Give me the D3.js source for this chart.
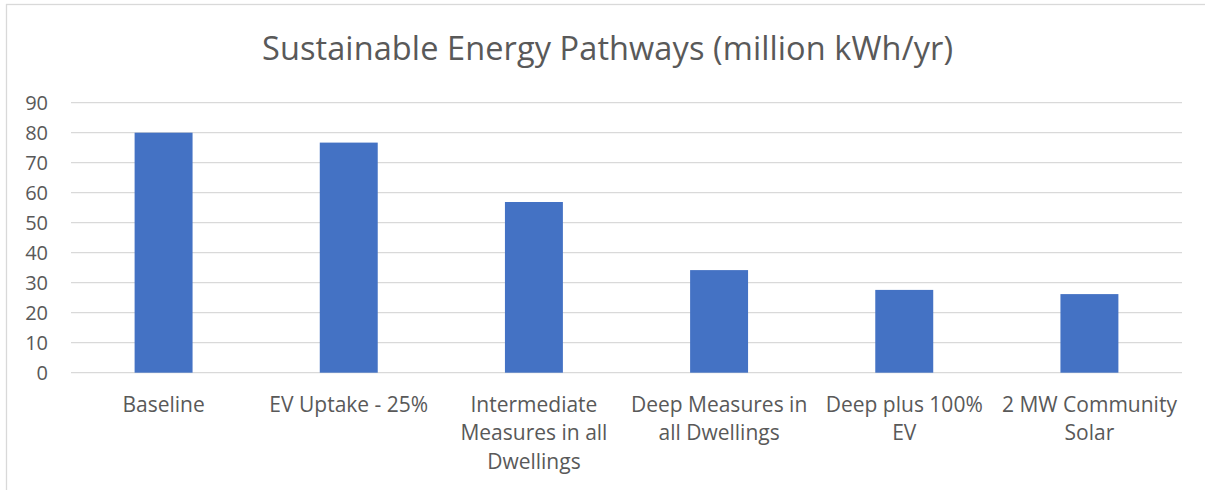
<!DOCTYPE html>
<html>
<head>
<meta charset="utf-8">
<script src="https://cdn.jsdelivr.net/npm/d3@7"></script>
<style>
  html, body { margin: 0; padding: 0; background: #fff; }
  svg { display: block; }
  text { font-family: "Open Sans", sans-serif; fill: #595959; }
</style>
</head>
<body>
<svg id="chart" width="1205" height="490"></svg>
<script>
// Annual energy use per pathway (million kWh/yr)
const categories = [
  ["Baseline"],
  ["EV Uptake - 25%"],
  ["Intermediate", "Measures in all", "Dwellings"],
  ["Deep Measures in", "all Dwellings"],
  ["Deep plus 100%", "EV"],
  ["2 MW Community", "Solar"]
];
const values = [80.0, 76.7, 56.9, 34.2, 27.6, 26.2];
const yTicks = [0, 10, 20, 30, 40, 50, 60, 70, 80, 90];
const title = "Sustainable Energy Pathways (million kWh/yr)";

const svg = d3.select("#chart");
const W = 1205, H = 490;
const plot = { left: 71, right: 1182, top: 102.7, bottom: 372.7 };
const FONT = "'Open Sans', sans-serif";

// chart frame
svg.append("rect")
  .attr("x", 6.5).attr("y", 4.5)
  .attr("width", W).attr("height", H)
  .attr("fill", "#fff").attr("stroke", "#d9d9d9").attr("stroke-width", 1.3);

const titleText = svg.append("text")
  .attr("x", 607.5).attr("y", 59.5)
  .attr("text-anchor", "middle")
  .style("font-size", "32.5px")
  .text(title);
// Open Sans runs narrower than the chart's title box here; stretch spacing to fill it
titleText.attr("textLength", 691).attr("lengthAdjust", "spacing");

const x = d3.scaleBand()
  .domain(d3.range(categories.length))
  .range([plot.left, plot.right])
  .paddingInner(0.687)
  .paddingOuter(0.3435);

const y = d3.scaleLinear().domain([0, 90]).range([plot.bottom, plot.top]);

// gridlines
svg.append("g")
  .selectAll("line")
  .data(yTicks)
  .join("line")
  .attr("x1", plot.left).attr("x2", plot.right)
  .attr("y1", d => y(d)).attr("y2", d => y(d))
  .attr("stroke", "#d9d9d9").attr("stroke-width", 1.3);

// y axis labels
const yAxis = d3.axisLeft(y).tickValues(yTicks).tickSize(0).tickPadding(0);
const gy = svg.append("g").attr("transform", `translate(${plot.left - 23},0)`).call(yAxis);
gy.select(".domain").remove();
gy.selectAll("text")
  .attr("dy", "0.36em")
  .style("font-size", "20px")
  .style("fill", "#595959")
  .style("font-family", FONT);

// bars
svg.append("g")
  .selectAll("rect")
  .data(values)
  .join("rect")
  .attr("x", (d, i) => x(i))
  .attr("width", x.bandwidth())
  .attr("y", d => y(d))
  .attr("height", d => y(0) - y(d))
  .attr("fill", "#4472c4");

// category labels
const cat = svg.append("g")
  .selectAll("text")
  .data(categories)
  .join("text")
  .attr("text-anchor", "middle")
  .attr("transform", (d, i) => `translate(${x(i) + x.bandwidth() / 2},${plot.bottom + 39})`)
  .style("font-size", "21px");
cat.selectAll("tspan")
  .data(d => d)
  .join("tspan")
  .attr("x", 0)
  .attr("dy", (d, j) => j === 0 ? 0 : 28.5)
  .text(d => d);
</script>
</body>
</html>
